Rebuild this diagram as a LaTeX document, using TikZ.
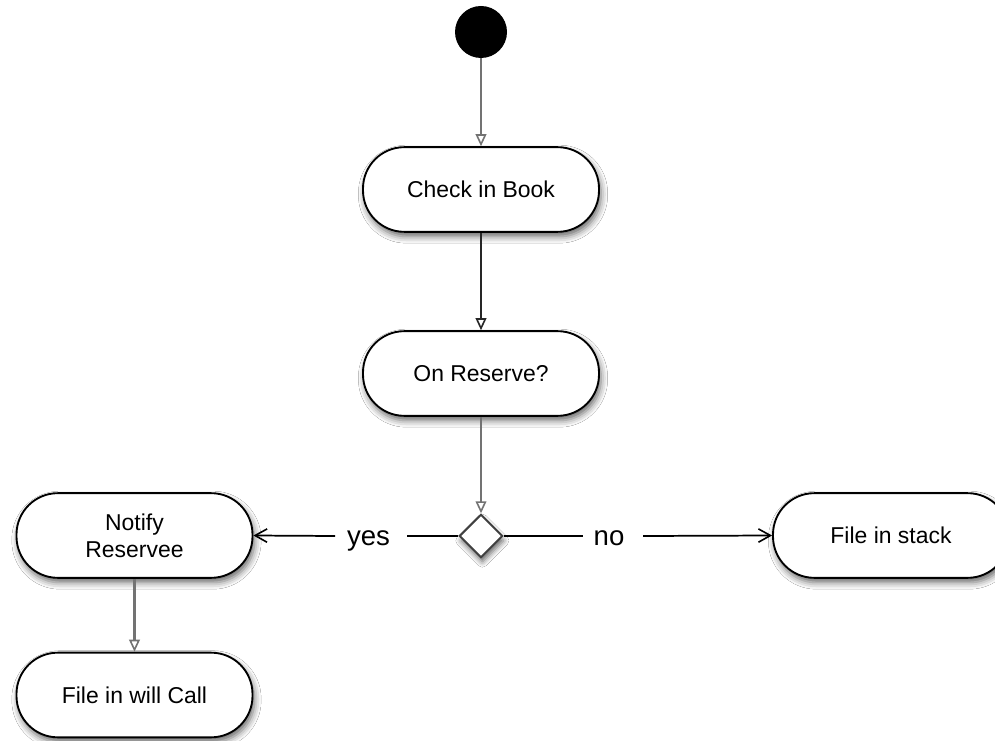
\documentclass[tikz,border=0pt]{standalone}
\usepackage{fontspec}
\setmainfont{Liberation Sans}
\usetikzlibrary{arrows.meta,shapes.geometric,shadows.blur}
\begin{document}
\begin{tikzpicture}[x=0.75pt,y=-0.75pt,
  act/.style={draw=black, line width=1.4pt, fill=white, rectangle, rounded corners=31pt,
    minimum width=177pt, minimum height=63.5pt, align=center, inner sep=0pt,
    font=\fontsize{17.2}{20}\selectfont,
    blur shadow={shadow xshift=1.5pt, shadow yshift=-3.5pt, shadow blur radius=5pt, shadow opacity=60}},
  startnode/.style={circle, fill=black, minimum size=39pt, inner sep=0pt},
  decision/.style={diamond, draw=black!75, line width=1.5pt, fill=white, minimum size=32.5pt, inner sep=0pt,
    blur shadow={shadow xshift=1pt, shadow yshift=-3.5pt, shadow blur radius=4pt, shadow opacity=60}},
  flow/.style={line width=2.2pt, draw=black!55, -{Triangle[open, length=9pt, width=8pt, line width=1.2pt]}},
  flowdark/.style={line width=1.5pt, draw=black!85, -{Triangle[open, length=9pt, width=8pt, line width=1.2pt]}},
  branch/.style={line width=1.3pt, draw=black},
  barb/.style={line width=1.3pt, draw=black, -{Straight Barb[length=9pt, width=10pt, line width=1.2pt]}},
  lbl/.style={font=\fontsize{20.7}{24}\selectfont, inner sep=0pt, anchor=base}
]
\useasboundingbox (0,0) rectangle (995,741);
\clip (0,0) rectangle (995,741);
\fill[white] (0,0) rectangle (995,741);

\node[startnode] (start) at (481,32) {};
\node[act] (check) at (481,189.5) {Check in Book};
\node[act] (reserve) at (481,373.5) {On Reserve?};
\node[decision] (dec) at (481,536) {};
\node[act] (notify) at (134.5,535.5) {Notify\\Reservee};
\node[act] (stack) at (891,535.5) {File in stack};
\node[act] (call) at (134.5,695) {File in will Call};

\node[lbl] (yes) at (368.5,545) {yes};
\node[lbl] (no) at (609,545) {no};

\draw[flow] (start) -- (check);
\draw[flowdark] (check) -- (reserve);
\draw[flow] (reserve) -- (dec);
\draw[flow] (notify) -- (call);

\coordinate (yl) at (335,536);
\coordinate (yr) at (407,536);
\coordinate (nl) at (583,536);
\coordinate (nr) at (643,536);
\draw[branch] (dec.west) -- (yr);
\draw[barb] (yl) -- (notify.east);
\draw[branch] (dec.east) -- (nl);
\draw[barb] (nr) -- (stack.west);
\end{tikzpicture}
\end{document}
